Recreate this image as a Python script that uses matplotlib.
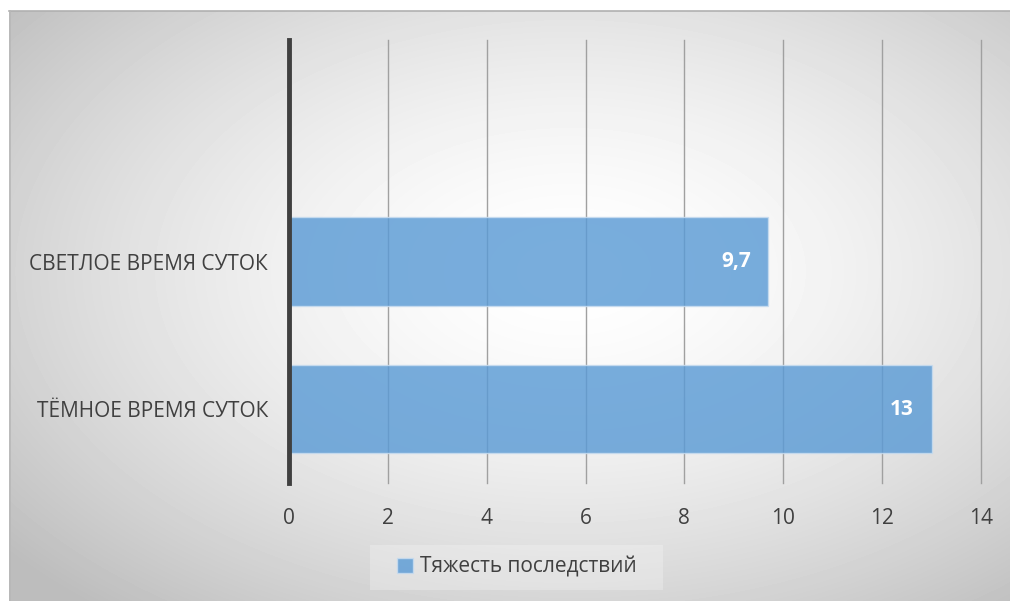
import numpy as np
import matplotlib
matplotlib.use("Agg")
import matplotlib.pyplot as plt
from matplotlib.patches import Rectangle

categories = ["ТЁМНОЕ ВРЕМЯ СУТОК", "СВЕТЛОЕ ВРЕМЯ СУТОК", ""]
values = [13, 9.7, np.nan]
value_labels = ["13", "9,7", ""]
series_name = "Тяжесть последствий"
xticks = [0, 2, 4, 6, 8, 10, 12, 14]

plt.rcParams['font.family'] = ['Open Sans', 'DejaVu Sans']

W, H = 1010, 601
fig = plt.figure(figsize=(W / 100, H / 100), dpi=100)
fig.patch.set_facecolor("white")

# radial gradient background of the chart area
bg = fig.add_axes([9 / W, 0, 1 - 9 / W, 1 - 11 / H])
bg.set_axis_off()
yy, xx = np.mgrid[0:590, 0:1001]
cx, cy = 560, 260
r = np.hypot((xx - cx) / 560, (yy - cy) / 340)
r = np.clip(r / 1.3, 0, 1)
shade = 1.0 - 0.26 * r ** 1.6
bg.imshow(shade, cmap="gray", vmin=0, vmax=1, aspect="auto", interpolation="bilinear")
fig.add_artist(plt.Line2D([9 / W, 1], [1 - 11 / H, 1 - 11 / H], color="#B0B0B0", lw=1.2))
fig.add_artist(plt.Line2D([9.5 / W, 9.5 / W], [0, 1 - 11 / H], color="#B8B8B8", lw=1.2))

ax = fig.add_axes([289 / W, 1 - 483 / H, (981 - 289) / W, (483 - 40) / H])
ax.patch.set_alpha(0)
y = np.arange(len(categories))
bars = ax.barh(y, values, height=0.6, color="#5B9BD5", alpha=0.82,
               edgecolor="#C9DDF0", linewidth=1, zorder=3, label=series_name)
for yi, v, lab in zip(y, values, value_labels):
    if lab:
        ax.text(v - 0.36, yi, lab, ha="right", va="center", color="white",
                fontsize=15, fontweight="bold", zorder=4)

ax.set_xlim(0, 14)
ax.set_ylim(-0.5, 2.5)
ax.set_xticks(xticks)
ax.set_xticklabels([str(t) for t in xticks])
ax.set_yticks(y)
ax.set_yticklabels(categories)
ax.tick_params(axis="both", length=0, colors="#404040", labelsize=15)
ax.tick_params(axis="x", pad=18)
ax.tick_params(axis="y", pad=15)
ax.grid(axis="x", color="#A0A0A0", lw=1, zorder=1)
for gl in ax.get_xgridlines():
    gl.set_clip_on(False)
ax.set_axisbelow(True)
for s in ["top", "right", "bottom"]:
    ax.spines[s].set_visible(False)
ax.spines["left"].set_color("#404040")
ax.spines["left"].set_linewidth(3.5)
ax.spines["left"].set_zorder(5)

# legend with a soft box
fig.add_artist(Rectangle((370 / W, 1 - 590 / H), (663 - 370) / W, 45 / H,
                         transform=fig.transFigure, facecolor="#F8F8F8",
                         edgecolor="none", alpha=0.3))
leg = fig.legend(handles=[bars], labels=[series_name], loc="center",
                 bbox_to_anchor=(517 / W, 1 - 567 / H), frameon=False,
                 fontsize=15, handlelength=0.75, handleheight=0.75,
                 handletextpad=0.35, labelcolor="#404040")

fig.savefig("out.png", dpi=100)
